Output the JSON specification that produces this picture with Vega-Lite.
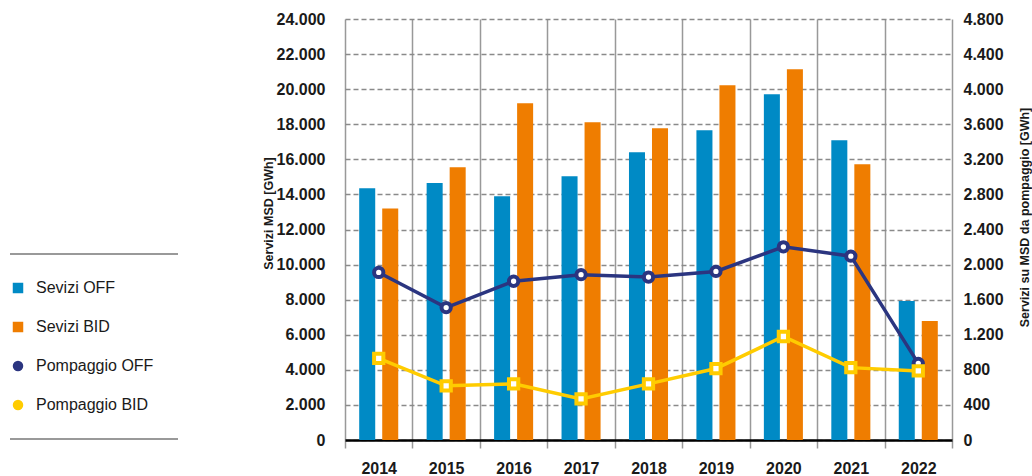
{
  "$schema": "https://vega.github.io/schema/vega-lite/v6.json",
  "width": 607,
  "height": 421,
  "autosize": {"type": "none"},
  "padding": {"left": 345, "top": 19, "right": 80, "bottom": 36},
  "background": "white",
  "config": {
    "view": {"stroke": null},
    "font": "Liberation Sans",
    "axis": {"labelFont": "Liberation Sans", "titleFont": "Liberation Sans", "labelColor": "#1a1a1a", "titleColor": "#1a1a1a", "labelOverlap": false},
    "axisY": {"labelOverlap": false},
    "axisRight": {"labelOverlap": false},
    "legend": {"labelFont": "Liberation Sans", "strokeWidth": 2, "strokeDash": [0, 26, 168, 189, 168, 500]}
  },
  "datasets": {
    "bars": [
      {"year": "2014", "series": "Sevizi OFF", "value": 14350},
      {"year": "2014", "series": "Sevizi BID", "value": 13200},
      {"year": "2015", "series": "Sevizi OFF", "value": 14650},
      {"year": "2015", "series": "Sevizi BID", "value": 15550},
      {"year": "2016", "series": "Sevizi OFF", "value": 13900},
      {"year": "2016", "series": "Sevizi BID", "value": 19200},
      {"year": "2017", "series": "Sevizi OFF", "value": 15030},
      {"year": "2017", "series": "Sevizi BID", "value": 18110},
      {"year": "2018", "series": "Sevizi OFF", "value": 16400},
      {"year": "2018", "series": "Sevizi BID", "value": 17770},
      {"year": "2019", "series": "Sevizi OFF", "value": 17660},
      {"year": "2019", "series": "Sevizi BID", "value": 20220},
      {"year": "2020", "series": "Sevizi OFF", "value": 19710},
      {"year": "2020", "series": "Sevizi BID", "value": 21130},
      {"year": "2021", "series": "Sevizi OFF", "value": 17090},
      {"year": "2021", "series": "Sevizi BID", "value": 15720},
      {"year": "2022", "series": "Sevizi OFF", "value": 7920},
      {"year": "2022", "series": "Sevizi BID", "value": 6780}
    ],
    "lines": [
      {"year": "2014", "series": "Pompaggio OFF", "value": 1910},
      {"year": "2015", "series": "Pompaggio OFF", "value": 1510},
      {"year": "2016", "series": "Pompaggio OFF", "value": 1810},
      {"year": "2017", "series": "Pompaggio OFF", "value": 1885},
      {"year": "2018", "series": "Pompaggio OFF", "value": 1858},
      {"year": "2019", "series": "Pompaggio OFF", "value": 1922},
      {"year": "2020", "series": "Pompaggio OFF", "value": 2203},
      {"year": "2021", "series": "Pompaggio OFF", "value": 2096},
      {"year": "2022", "series": "Pompaggio OFF", "value": 874},
      {"year": "2014", "series": "Pompaggio BID", "value": 930},
      {"year": "2015", "series": "Pompaggio BID", "value": 618},
      {"year": "2016", "series": "Pompaggio BID", "value": 640},
      {"year": "2017", "series": "Pompaggio BID", "value": 468},
      {"year": "2018", "series": "Pompaggio BID", "value": 640},
      {"year": "2019", "series": "Pompaggio BID", "value": 815},
      {"year": "2020", "series": "Pompaggio BID", "value": 1180},
      {"year": "2021", "series": "Pompaggio BID", "value": 825},
      {"year": "2022", "series": "Pompaggio BID", "value": 788}
    ]
  },
  "layer": [
    {
      "data": {"name": "bars"},
      "mark": {"type": "bar"},
      "encoding": {
        "x": {
          "field": "year", "type": "nominal",
          "scale": {"paddingInner": 0, "paddingOuter": 0},
          "axis": {
            "title": null, "labelAngle": 0, "labelFontSize": 16, "labelFontWeight": "bold",
            "labelPadding": 12, "tickBand": "extent", "ticks": true, "tickSize": 8,
            "tickColor": "#999999", "tickWidth": 1.5, "grid": true, "gridColor": "#999999",
            "gridWidth": 1.5, "domain": true, "domainColor": "#000000", "domainWidth": 2.5, "zindex": 0
          }
        },
        "xOffset": {
          "field": "series", "type": "nominal",
          "scale": {"domain": ["Sevizi OFF", "Sevizi BID"], "paddingInner": 0.304, "paddingOuter": 0.617}
        },
        "y": {
          "field": "value", "type": "quantitative",
          "scale": {"domain": [0, 24000], "nice": false},
          "axis": {
            "values": [0, 2000, 4000, 6000, 8000, 10000, 12000, 14000, 16000, 18000, 20000, 22000, 24000],
            "labelExpr": "replace(format(datum.value, ','), ',', '.')",
            "labelFontSize": 16, "labelFontWeight": "bold", "labelPadding": 20,
            "ticks": false, "domain": false, "grid": true, "gridDash": [5, 3], "gridColor": "#8a8a8a", "gridWidth": 1.5,
            "title": "Servizi MSD [GWh]", "titleFontSize": 12.5, "titleFontWeight": "bold",
            "titleAngle": 270, "titleX": -77, "titleY": 194, "titleAlign": "center", "titleBaseline": "middle"
          }
        },
        "color": {
          "field": "series", "type": "nominal",
          "scale": {
            "domain": ["Sevizi OFF", "Sevizi BID", "Pompaggio OFF", "Pompaggio BID"],
            "range": ["#008AC5", "#EF7D00", "#2B3580", "#FFCC00"]
          },
          "legend": {
            "title": null, "orient": "none", "legendX": -361, "legendY": 235,
            "padding": 26, "rowPadding": 23, "labelOffset": 10, "labelFontSize": 16, "labelColor": "#1a1a1a",
            "labelLimit": 300, "symbolSize": 110, "symbolStrokeWidth": 0,
            "strokeColor": "#999999"
          }
        }
      }
    },
    {
      "data": {"name": "lines"},
      "encoding": {
        "x": {"field": "year", "type": "nominal"},
        "y": {
          "field": "value", "type": "quantitative",
          "scale": {"domain": [0, 4800], "nice": false},
          "axis": {
            "orient": "right",
            "values": [0, 400, 800, 1200, 1600, 2000, 2400, 2800, 3200, 3600, 4000, 4400, 4800],
            "labelExpr": "replace(format(datum.value, ','), ',', '.')",
            "labelOverlap": false,
            "labelSeparation": 0,
            "labelFontSize": 16, "labelFontWeight": "bold", "labelPadding": 11,
            "ticks": false, "domain": false, "grid": false,
            "title": "Servizi su MSD da pompaggio [GWh]", "titleFontSize": 12.5, "titleFontWeight": "bold",
            "titleAngle": 270, "titleX": 72, "titleY": 198, "titleAlign": "center", "titleBaseline": "middle"
          }
        }
      },
      "layer": [
        {
          "mark": {"type": "line", "strokeWidth": 3.5},
          "encoding": {
            "color": {"field": "series", "type": "nominal"}
          }
        },
        {
          "transform": [{"filter": "datum.series === 'Pompaggio OFF'"}],
          "mark": {"type": "point", "filled": true, "fill": "#ffffff", "stroke": "#2B3580", "size": 86, "strokeWidth": 4, "opacity": 1},
          "encoding": {
            "shape": {
              "field": "series", "type": "nominal",
              "scale": {
                "domain": ["Sevizi OFF", "Sevizi BID", "Pompaggio OFF", "Pompaggio BID"],
                "range": ["square", "square", "circle", "circle"]
              },
              "legend": {
                "title": null, "orient": "none", "legendX": -361, "legendY": 235,
                "padding": 26, "rowPadding": 23, "labelOffset": 10, "labelFontSize": 16, "labelColor": "#1a1a1a",
                "labelLimit": 300, "symbolSize": 110, "symbolStrokeWidth": 0,
                "strokeColor": "#999999"
              }
            }
          }
        },
        {
          "transform": [{"filter": "datum.series === 'Pompaggio BID'"}],
          "mark": {"type": "point", "shape": "square", "filled": true, "fill": "#ffffff", "stroke": "#FFCC00", "size": 86, "strokeWidth": 4, "opacity": 1},
          "encoding": {}
        }
      ]
    }
  ],
  "resolve": {"scale": {"y": "independent"}}
}
